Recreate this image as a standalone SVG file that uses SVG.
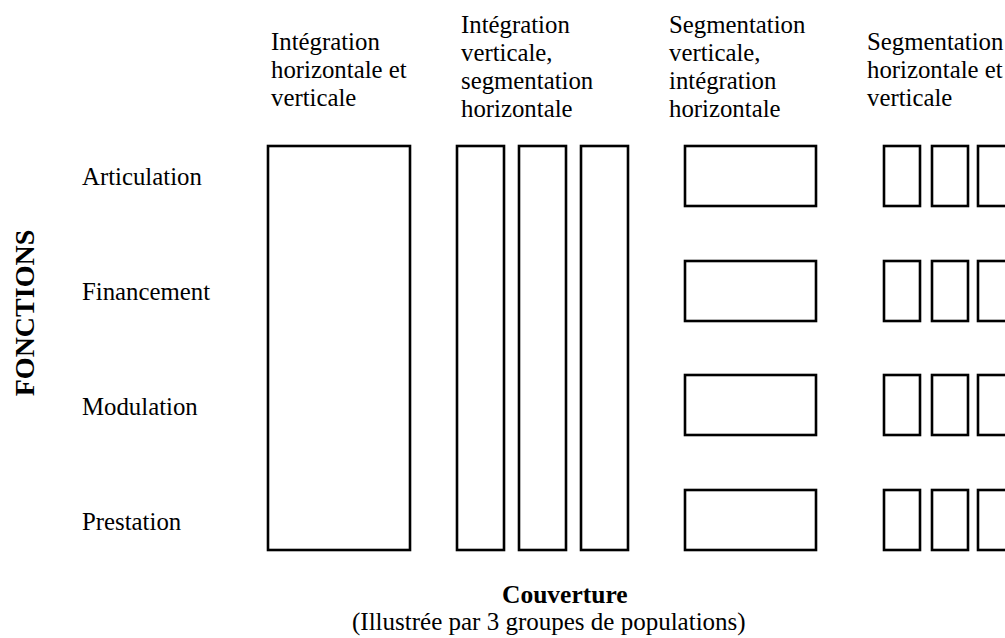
<svg xmlns="http://www.w3.org/2000/svg" width="1005" height="638" viewBox="0 0 1005 638">
<defs>
<rect id="tall" width="47" height="404" fill="#fff" stroke="#000" stroke-width="2.6"/>
<rect id="wide" width="131" height="60" fill="#fff" stroke="#000" stroke-width="2.6"/>
<rect id="small" width="36" height="60" fill="#fff" stroke="#000" stroke-width="2.6"/>
</defs>
<rect width="1005" height="638" fill="#fff"/>
<g id="headers" font-family="Liberation Serif, Times New Roman, serif" font-size="24.8">
<text x="271" y="50">Intégration</text>
<text x="271" y="78">horizontale et</text>
<text x="271" y="106">verticale</text>
<text x="461" y="33">Intégration</text>
<text x="461" y="61">verticale,</text>
<text x="461" y="89">segmentation</text>
<text x="461" y="117">horizontale</text>
<text x="669" y="33">Segmentation</text>
<text x="669" y="61">verticale,</text>
<text x="669" y="89">intégration</text>
<text x="669" y="117">horizontale</text>
<text x="867" y="50">Segmentation</text>
<text x="867" y="78">horizontale et</text>
<text x="867" y="106">verticale</text>
</g>
<g id="rows" font-family="Liberation Serif, Times New Roman, serif" font-size="24.8">
<text x="82" y="185">Articulation</text>
<text x="82" y="300">Financement</text>
<text x="82" y="415">Modulation</text>
<text x="82" y="530">Prestation</text>
<text x="0" y="0" font-size="28" font-weight="bold" text-anchor="middle" transform="translate(34,313) rotate(-90)">FONCTIONS</text>
</g>
<g id="footer" font-family="Liberation Serif, Times New Roman, serif" font-size="25">
<text x="502" y="603" font-size="25.5" font-weight="bold">Couverture</text>
<text x="352" y="630">(Illustrée par 3 groupes de populations)</text>
</g>
<g id="col1"><rect x="268" y="146" width="142" height="404" fill="#fff" stroke="#000" stroke-width="2.6"/></g>
<g id="col2">
<use href="#tall" x="457" y="146"/>
<use href="#tall" x="519" y="146"/>
<use href="#tall" x="581" y="146"/>
</g>
<g id="col3">
<use href="#wide" x="685" y="146"/>
<use href="#wide" x="685" y="261"/>
<use href="#wide" x="685" y="375"/>
<use href="#wide" x="685" y="490"/>
</g>
<g id="col4">
<use href="#small" x="884" y="146"/>
<use href="#small" x="932" y="146"/>
<use href="#small" x="978" y="146"/>
<use href="#small" x="884" y="261"/>
<use href="#small" x="932" y="261"/>
<use href="#small" x="978" y="261"/>
<use href="#small" x="884" y="375"/>
<use href="#small" x="932" y="375"/>
<use href="#small" x="978" y="375"/>
<use href="#small" x="884" y="490"/>
<use href="#small" x="932" y="490"/>
<use href="#small" x="978" y="490"/>
</g>
<g id="connectors"></g>
</svg>
